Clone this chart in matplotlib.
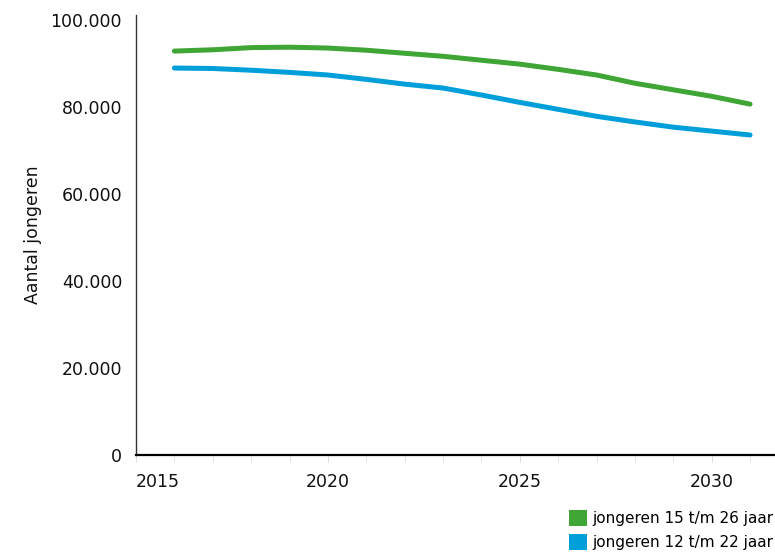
import matplotlib.pyplot as plt
from matplotlib.patches import Patch
from matplotlib.ticker import FuncFormatter, MultipleLocator

# Data
years = [2016, 2017, 2018, 2019, 2020, 2021, 2022, 2023, 2024, 2025,
         2026, 2027, 2028, 2029, 2030, 2031]
jong_15_26 = [92900, 93200, 93700, 93800, 93600, 93100, 92400, 91700, 90800, 89900,
              88700, 87400, 85500, 84000, 82500, 80700]
jong_12_22 = [89000, 88900, 88500, 88000, 87400, 86400, 85300, 84400, 82800, 81100,
              79500, 77900, 76600, 75400, 74500, 73600]
labels = ['jongeren 15 t/m 26 jaar', 'jongeren 12 t/m 22 jaar']
colors = ['#3FA535', '#009FDA']
major_years = [2015, 2020, 2025, 2030]

plt.rcParams['font.family'] = ['DejaVu Sans']

fig = plt.figure(figsize=(7.75, 5.55), dpi=100)
ax = fig.add_axes([136 / 775, 100 / 555, 1 - 136 / 775, 440 / 555])

ax.plot(years, jong_15_26, color=colors[0], lw=3.6, solid_capstyle='round')
ax.plot(years, jong_12_22, color=colors[1], lw=3.6, solid_capstyle='round')

ax.set_xlim(2015, 2031.65)
ax.set_ylim(0, 101200)

ax.spines['top'].set_visible(False)
ax.spines['right'].set_visible(False)
ax.spines['left'].set_color('#333333')
ax.spines['left'].set_linewidth(1.0)
ax.spines['bottom'].set_color('black')
ax.spines['bottom'].set_linewidth(1.6)

ax.yaxis.set_major_locator(MultipleLocator(20000))
ax.yaxis.set_major_formatter(FuncFormatter(lambda v, p: f'{int(v):,}'.replace(',', '.')))
ax.tick_params(axis='y', length=0, pad=10, labelsize=12.5, labelcolor='#111111')

ax.set_xticks(major_years)
ax.set_xticklabels([str(y) for y in major_years])
ax.xaxis.set_minor_locator(MultipleLocator(1))
ax.tick_params(axis='x', which='both', length=5, color='#dddddd', labelsize=12.5,
               labelcolor='#111111', pad=8)
ax.get_xticklabels()[0].set_horizontalalignment('left')

ax.set_ylabel('Aantal jongeren', fontsize=12.5, labelpad=6, color='#111111')

handles = [Patch(facecolor=c, edgecolor='none') for c in colors]
fig.legend(handles, labels, loc='upper left', bbox_to_anchor=(569 / 775, 1 - 510 / 555),
           frameon=False, fontsize=11, handlelength=1.2, handleheight=1.2,
           handletextpad=0.35, labelspacing=0.55, borderpad=0, borderaxespad=0)

fig.savefig('out.png', dpi=100)
